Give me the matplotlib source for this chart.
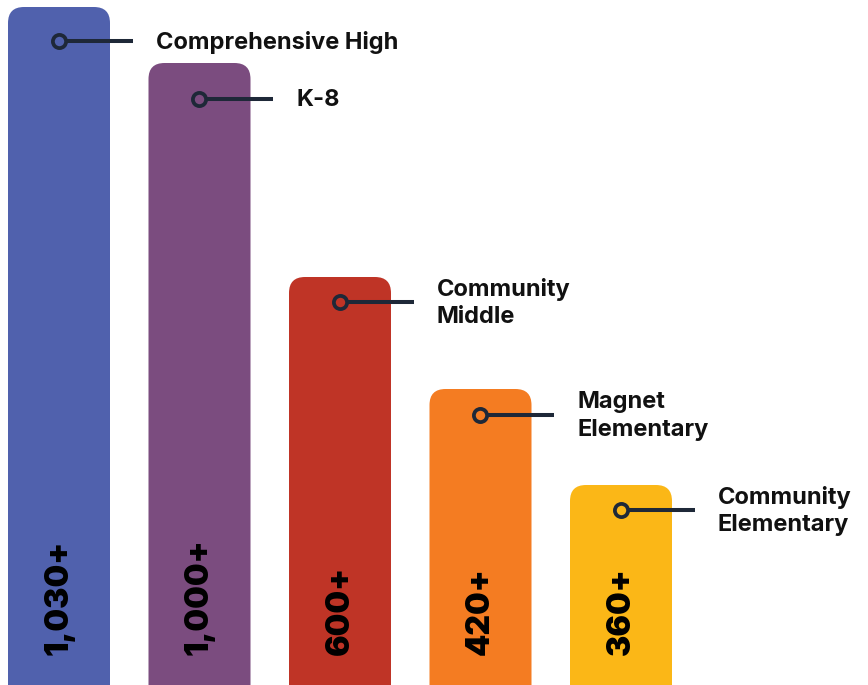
import matplotlib.pyplot as plt
from matplotlib.patches import FancyBboxPatch

# Data
categories = ['Comprehensive High', 'K-8', 'Community\nMiddle',
              'Magnet\nElementary', 'Community\nElementary']
value_labels = ['1,030+', '1,000+', '600+', '420+', '360+']
# bar heights as drawn (not strictly proportional to the labels)
bar_heights = [678, 622, 408, 296, 200]
# height of the label marker on each bar
marker_levels = [644, 586, 383, 270, 175]
bar_colors = ['#5061ad', '#7b4c7f', '#bf3426', '#f47c22', '#fbb717']

LINE_COLOR = '#1e2838'
PX_X = 140.5  # pixels per x unit
BAR_W = 102 / PX_X
RADIUS = 16 / PX_X

fig = plt.figure(figsize=(8.68, 6.85), dpi=100)
ax = fig.add_axes([0, 0, 1, 1])
ax.set_xlim(-59 / PX_X, (868 - 59) / PX_X)
ax.set_ylim(0, 685)
ax.axis('off')

for i, (h, m, color, cat, val) in enumerate(zip(bar_heights, marker_levels, bar_colors,
                                                 categories, value_labels)):
    # rounded top bar, bottom pushed below the axes so only the top is rounded
    bar = FancyBboxPatch((i - BAR_W / 2, -40), BAR_W, h + 40,
                         boxstyle=f'round,pad=0,rounding_size={RADIUS}',
                         mutation_aspect=PX_X, facecolor=color,
                         edgecolor='none', zorder=1)
    ax.add_patch(bar)

    # marker with leader line
    ax.plot([i, i + 74 / PX_X], [m, m], color=LINE_COLOR, lw=2.9,
            solid_capstyle='butt', zorder=2)
    ax.plot(i, m, 'o', ms=9.5, mfc=color, mec=LINE_COLOR, mew=2.7, zorder=3)

    ax.text(i + 97 / PX_X, m - 1, cat, ha='left', va='center',
            fontsize=17, fontweight='bold', family='Inter',
            color='#111111', linespacing=1.3, zorder=4)

    ax.text(i, 30, val, rotation=90, ha='center', va='bottom',
            fontsize=23, fontweight='black', family='Inter',
            color='#000000', zorder=4)

fig.savefig('out.png', dpi=100)
